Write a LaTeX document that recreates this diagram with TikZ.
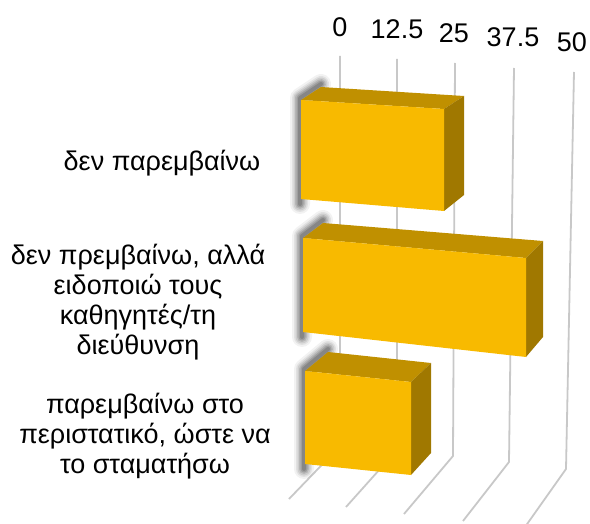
\documentclass[tikz,border=0pt]{standalone}
\usepackage{fontspec}
\setmainfont{Liberation Sans}
\definecolor{barfront}{RGB}{248,186,0}
\definecolor{barlid}{RGB}{192,144,0}
\definecolor{barflank}{RGB}{160,120,0}
\definecolor{gridgray}{RGB}{200,200,200}

\begin{document}
\begin{tikzpicture}[x=1pt,y=-1pt,
    grid/.style={draw=gridgray, line width=1.8pt, line join=round},
    front/.style={fill=barfront},
    lid/.style={fill=barlid},
    flank/.style={fill=barflank},
    blur/.style={draw=black, line cap=round, line join=round},
    lab/.style={font=\fontsize{27}{30}\selectfont, align=center},
    tick/.style={font=\fontsize{27}{30}\selectfont}]
        \useasboundingbox (0,0) rectangle (590,524);
        % grid lines (wall and floor)
        \draw[grid] (340,56) -- (340,446) -- (289,499);
        \draw[grid] (397,59) -- (397,450) -- (346,507);
        \draw[grid] (455,63) -- (453,456) -- (404,514);
        \draw[grid] (514,68) -- (509,462) -- (463,521);
        \draw[grid] (574,72) -- (566,469) -- (525,527);
        \node[tick] (v0) at (340,27) {0};
        \node[tick] (v1) at (397,29) {12.5};
        \node[tick] (v2) at (454,33) {25};
        \node[tick] (v3) at (513,37) {37.5};
        \node[tick] (v4) at (572,42) {50};
        % soft shadows left of the bars
        \foreach \w/\o in {20/0.05,16/0.07,13/0.09,10/0.11,7/0.13,4/0.15}
            \draw[blur, line width=\w pt, draw opacity=\o]
                (321,84) -- (300,98) -- (300,204)
                (323,220) -- (302,236) -- (302,337)
                (328,349) -- (304,369) -- (304,469);
        % bar 1
        \fill[lid] (301,100) -- (321,87) -- (464,96) -- (444,109) -- cycle;
        \fill[flank] (444,109) -- (464,96) -- (464,195) -- (444,211) -- cycle;
        \fill[front] (301,100) -- (444,109) -- (444,211) -- (301,199) -- cycle;
        % bar 2
        \fill[lid] (303,238) -- (323,223) -- (543,241) -- (526,258) -- cycle;
        \fill[flank] (526,258) -- (543,241) -- (543,337) -- (526,357) -- cycle;
        \fill[front] (303,238) -- (526,258) -- (526,357) -- (303,332) -- cycle;
        % bar 3
        \fill[lid] (305,371) -- (328,352) -- (431,363) -- (411,382) -- cycle;
        \fill[flank] (411,382) -- (431,363) -- (431,453) -- (411,475) -- cycle;
        \fill[front] (305,371) -- (411,382) -- (411,475) -- (305,464) -- cycle;
        \node[lab] (c1) at (162,163) {δεν παρεμβαίνω};
        \node[lab] (c2) at (138,302) {δεν πρεμβαίνω, αλλά\\ειδοποιώ τους\\καθηγητές/τη\\διεύθυνση};
        \node[lab] (c3) at (145,436) {παρεμβαίνω στο\\περιστατικό, ώστε να\\το σταματήσω};
\end{tikzpicture}
\end{document}
